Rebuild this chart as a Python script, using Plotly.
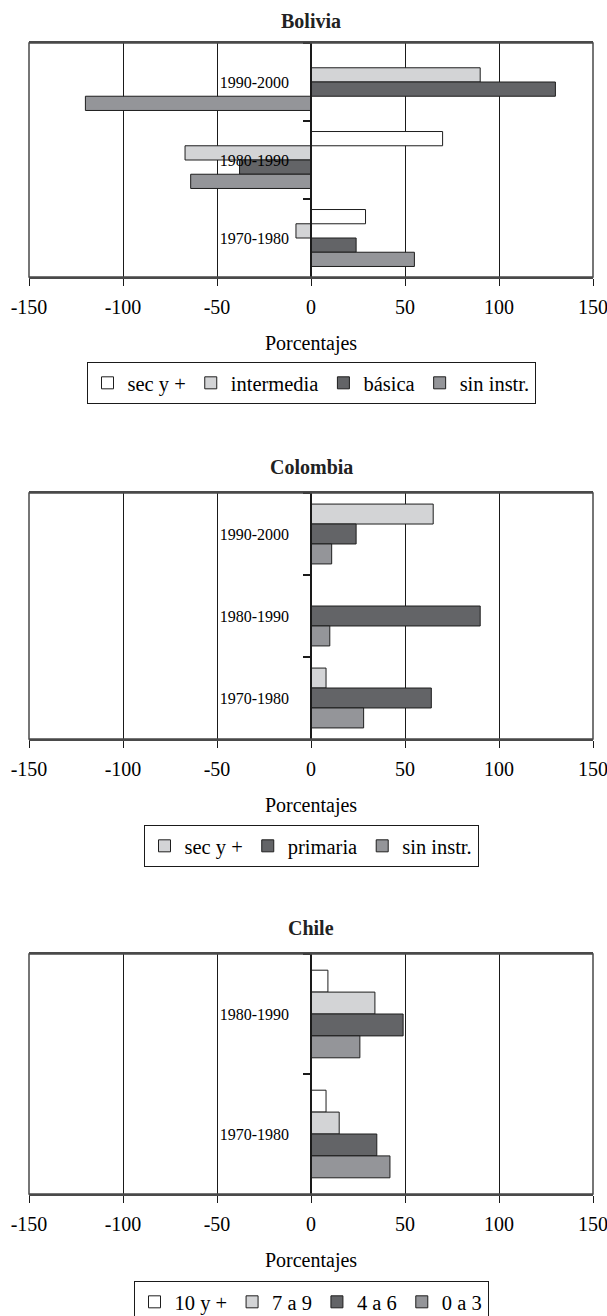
import plotly.graph_objects as go

# ---------------- data ----------------
bol_periods = ["1990-2000", "1980-1990", "1970-1980"]
bol_names = ["sec y +", "intermedia", "básica", "sin instr."]
bol_sec = [None, 70, 29]
bol_inter = [90, -67, -8]
bol_basica = [130, -38, 24]
bol_sin = [-120, -64, 55]

col_periods = ["1990-2000", "1980-1990", "1970-1980"]
col_names = ["sec y +", "primaria", "sin instr."]
col_sec = [65, None, 8]
col_prim = [24, 90, 64]
col_sin = [11, 10, 28]

chi_periods = ["1980-1990", "1970-1980"]
chi_names = ["10 y +", "7 a 9", "4 a 6", "0 a 3"]
chi_10 = [9, 8]
chi_7 = [34, 15]
chi_4 = [49, 35]
chi_0 = [26, 42]

x_ticks = [-150, -100, -50, 0, 50, 100, 150]
countries = ["Bolivia", "Colombia", "Chile"]
axis_title = "Porcentajes"

# ---------------- styling ----------------
W, H = 607, 1316
FONT = "Liberation Serif, Times New Roman, serif"
C_WHITE = "#ffffff"
C_LIGHT = "#d3d4d6"
C_DARK = "#636467"
C_MED = "#949599"
LINE = "#1e1e1e"

x_left, x_right = 29, 593
panels = [  # (top px, bottom px)
    (43, 277),
    (493, 739),
    (954, 1194),
]
title_y = [21, 467, 928]
legend_top = [362, 825, 1281]

def py(p):
    return 1 - p / H

xdom = [x_left / W, x_right / W]
zero_pos = (x_left + x_right) / 2 / W

fig = go.Figure()

def add_bars(names, series, colors, periods, k):
    ax = "" if k == 1 else str(k)
    leg = "legend" if k == 1 else f"legend{k}"
    for name, vals, col in zip(names, series, colors):
        fig.add_trace(go.Bar(
            y=periods, x=vals, name=name, orientation="h",
            marker=dict(color=col, line=dict(color=LINE, width=1)),
            xaxis="x" + ax, yaxis="y" + ax, legend=leg,
            hoverinfo="x+y+name",
        ))

add_bars(bol_names, [bol_sec, bol_inter, bol_basica, bol_sin],
         [C_WHITE, C_LIGHT, C_DARK, C_MED], bol_periods, 1)
add_bars(col_names, [col_sec, col_prim, col_sin],
         [C_LIGHT, C_DARK, C_MED], col_periods, 2)
add_bars(chi_names, [chi_10, chi_7, chi_4, chi_0],
         [C_WHITE, C_LIGHT, C_DARK, C_MED], chi_periods, 3)

layout = dict(
    width=W, height=H,
    margin=dict(l=0, r=0, t=0, b=0, autoexpand=False),
    paper_bgcolor="white", plot_bgcolor="white",
    barmode="group", bargap=0.27, bargroupgap=0,
    font=dict(family=FONT, color="black", size=20),
    showlegend=True,
)

period_lists = [bol_periods, col_periods, chi_periods]
annotations = []
shapes = []
for i in range(3):
    k = i + 1
    ax = "" if k == 1 else str(k)
    top, bot = panels[i]
    n = len(period_lists[i])
    layout["xaxis" + ax] = dict(
        domain=xdom, anchor="y" + ax, range=[-150, 150],
        tickvals=x_ticks, ticktext=[str(v) for v in x_ticks],
        showgrid=True, gridcolor="#1a1a1a", gridwidth=1,
        zeroline=False,
        showline=True, linecolor="#4a4a4a", linewidth=1.5, mirror=True,
        ticks="outside", ticklen=7, tickcolor="#1a1a1a", tickwidth=1,
        ticklabelstandoff=4, ticklabeloverflow="allow",
        tickfont=dict(family=FONT, size=20, color="black"),
        title=dict(text=axis_title, standoff=19,
                   font=dict(family=FONT, size=20, color="black")),
        fixedrange=True,
    )
    layout["yaxis" + ax] = dict(
        domain=[py(bot), py(top)], anchor="free", position=zero_pos,
        type="category", categoryorder="array",
        categoryarray=period_lists[i],
        range=[n - 0.5, -0.5],
        showgrid=False, zeroline=False,
        showline=True, linecolor="#1a1a1a", linewidth=1.5,
        ticks="outside", tickson="boundaries", ticklen=7,
        tickcolor="#1a1a1a", tickwidth=1.5,
        ticklabelstandoff=18,
        tickfont=dict(family=FONT, size=16, color="black"),
        fixedrange=True,
    )
    # plot frame
    shapes.append(dict(type="rect", xref="x" + ax + " domain", yref="y" + ax + " domain",
                       x0=0, x1=1, y0=0, y1=1,
                       line=dict(color="#4a4a4a", width=1.5), layer="above"))
    annotations.append(dict(
        text=f"<b>{countries[i]}</b>", xref="paper", yref="paper",
        x=zero_pos, y=py(title_y[i]), xanchor="center", yanchor="middle",
        showarrow=False, font=dict(family=FONT, size=20, color="#222"),
    ))
    leg = "legend" if k == 1 else f"legend{k}"
    layout[leg] = dict(
        orientation="h", x=zero_pos, xanchor="center",
        y=py(legend_top[i]), yanchor="top",
        bordercolor="#1a1a1a", borderwidth=1, bgcolor="white",
        font=dict(family=FONT, size=20.5, color="black"),
        traceorder="normal",
    )

layout["annotations"] = annotations
layout["shapes"] = shapes
fig.update_layout(**layout)

fig.write_html(
    "out.html",
    config={"displayModeBar": False},
    post_script="document.body.style.margin='0';document.body.style.overflow='hidden';",
)
